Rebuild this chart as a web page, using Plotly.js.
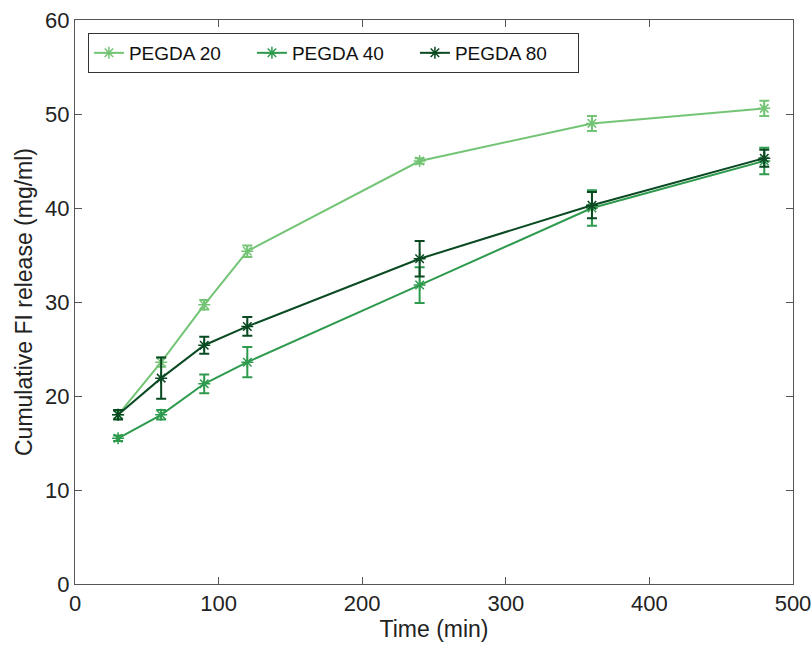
<!DOCTYPE html>
<html>
<head>
<script src="https://cdn.plot.ly/plotly-3.0.1.min.js"></script>
<style>html,body{margin:0;padding:0;background:#fff;}</style>
</head>
<body>
<div id="chart" style="width:811px;height:649px;"></div>
<script>
const time = [30, 60, 90, 120, 240, 360, 480];
const pegda20 = [18.0, 23.6, 29.7, 35.4, 45.0, 49.0, 50.6];
const pegda20Err = [0.4, 0.5, 0.5, 0.6, 0.3, 0.8, 0.8];
const pegda40 = [15.5, 18.0, 21.3, 23.6, 31.8, 40.0, 45.0];
const pegda40Err = [0.3, 0.5, 1.0, 1.6, 1.9, 1.9, 1.4];
const pegda80 = [18.0, 21.9, 25.4, 27.4, 34.6, 40.3, 45.3];
const pegda80Err = [0.5, 2.2, 0.9, 1.0, 1.9, 1.4, 0.9];
const names = ['PEGDA 20', 'PEGDA 40', 'PEGDA 80'];
const colors = ['#74c476', '#2e9a4e', '#0a4a22'];

function tr(y, e, i) {
  return {
    x: time, y: y, name: names[i], type: 'scatter', mode: 'lines+markers',
    line: {color: colors[i], width: 2},
    marker: {symbol: 'asterisk-open', size: 10, color: colors[i], line: {color: colors[i], width: 1.5}},
    error_y: {type: 'data', array: e, visible: true, color: colors[i], thickness: 2, width: 5}
  };
}
const data = [tr(pegda20, pegda20Err, 0), tr(pegda40, pegda40Err, 1), tr(pegda80, pegda80Err, 2)];
const fam = 'Liberation Sans, Arial, sans-serif';
const layout = {
  width: 811, height: 649,
  margin: {l: 75, r: 18, t: 20, b: 65},
  paper_bgcolor: '#fff', plot_bgcolor: '#fff',
  font: {family: fam, color: '#222', size: 22},
  showlegend: true,
  legend: {x: 0.018, y: 0.977, xanchor: 'left', yanchor: 'top', orientation: 'h',
    bordercolor: '#333', borderwidth: 1, bgcolor: '#fff', font: {size: 19, color: '#111', family: fam},
    entrywidth: 118, entrywidthmode: 'pixels', tracegroupgap: 0},
  xaxis: {range: [0, 500], tickvals: [0,100,200,300,400,500], ticks: 'inside', ticklen: 7, tickcolor: '#555',
    showline: true, linecolor: '#555', linewidth: 1, mirror: 'ticks', showgrid: false, zeroline: false,
    tickfont: {size: 22, color: '#222'}, ticklabeloverflow: 'allow',
    title: {text: 'Time (min)', font: {size: 23, color: '#222'}, standoff: 2}},
  yaxis: {range: [0, 60], tickvals: [0,10,20,30,40,50,60], ticks: 'inside', ticklen: 7, tickcolor: '#555',
    showline: true, linecolor: '#555', linewidth: 1, mirror: 'ticks', showgrid: false, zeroline: false,
    tickfont: {size: 22, color: '#222'},
    title: {text: 'Cumulative FI release (mg/ml)', font: {size: 23, color: '#222'}, standoff: 6}}
};
Plotly.newPlot('chart', data, layout, {displayModeBar: false});
</script>
</body>
</html>
